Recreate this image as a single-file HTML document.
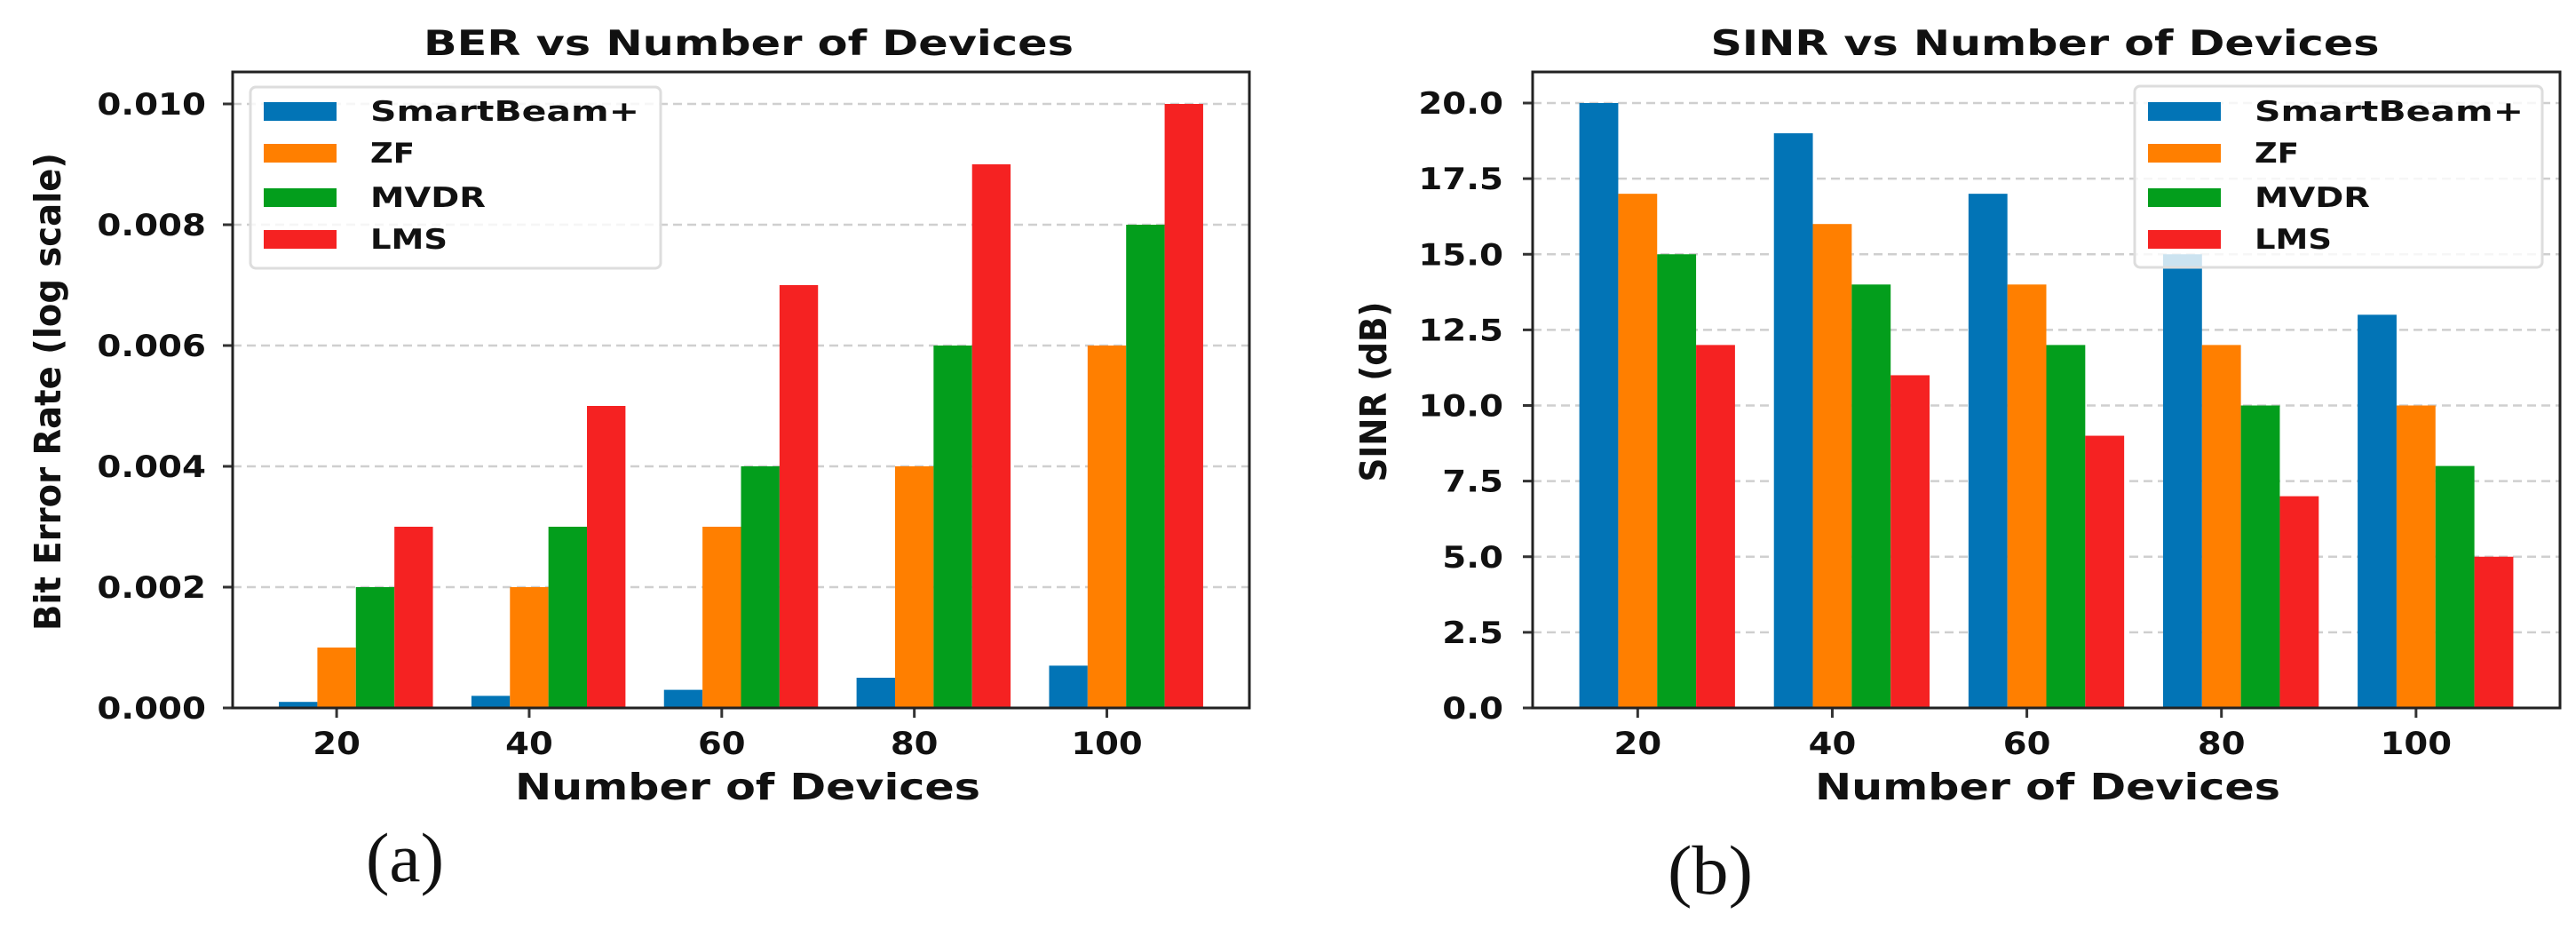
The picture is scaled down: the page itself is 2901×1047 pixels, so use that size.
<!DOCTYPE html>
<html><head><meta charset="utf-8"><style>
html,body{margin:0;padding:0;background:#fff;}
svg{display:block;}
text{font-family:"DejaVu Sans","Liberation Sans",sans-serif;font-weight:bold;fill:#111;}
</style></head><body>
<svg id="fig" width="2901" height="1047" viewBox="0 0 2901 1047" xmlns="http://www.w3.org/2000/svg"></svg>
<script>
const categories = ["20","40","60","80","100"];
const seriesNames = ["SmartBeam+","ZF","MVDR","LMS"];
const colors = ["#0274b6","#ff7f00","#039e1c","#f52222"];
const berSmart = [0.0001,0.0002,0.0003,0.0005,0.0007];
const berZF = [0.001,0.002,0.003,0.004,0.006];
const berMVDR = [0.002,0.003,0.004,0.006,0.008];
const berLMS = [0.003,0.005,0.007,0.009,0.010];
const berTicks = ["0.000","0.002","0.004","0.006","0.008","0.010"];
const sinrSmart = [20,19,17,15,13];
const sinrZF = [17,16,14,12,10];
const sinrMVDR = [15,14,12,10,8];
const sinrLMS = [12,11,9,7,5];
const sinrTicks = ["0.0","2.5","5.0","7.5","10.0","12.5","15.0","17.5","20.0"];

const NS="http://www.w3.org/2000/svg";
const svg=document.getElementById('fig');
function mk(tag,attrs,parent){const e=document.createElementNS(NS,tag);for(const k in attrs)e.setAttribute(k,attrs[k]);(parent||svg).appendChild(e);return e;}
function numLen(s,fs,k){let w=0;for(const ch of s)w+=(ch==='.'?0.38:0.696);return w*fs*k;}
const legendLens=[303,50,130,87];

function chart(o){
  const g=mk('g',{});
  
  
  const xmin=-0.34,xmax=4.94;
  const sx=v=>o.L+(v-xmin)/(xmax-xmin)*(o.R-o.L);
  const sy=v=>o.y0+(v-o.vmin)/(o.vmax-o.vmin)*(o.y1-o.y0);
  o.ticks.forEach((t,i)=>{
    const v=parseFloat(t);const y=sy(v);
    if(i>0){const gl=mk('line',{x1:o.L,x2:o.R,y1:y,y2:y,stroke:'#cfcfcf','stroke-width':2.5,'stroke-dasharray':'10,6'},g);
      }
    const tk=mk('line',{x1:o.L-11,x2:o.L,y1:y,y2:y,stroke:'#333','stroke-width':3},g);
    
    const tl=mk('text',{x:o.tickR,y:y+12,'text-anchor':'end','font-size':34,textLength:numLen(t,34,1.14),lengthAdjust:'spacingAndGlyphs'},g);
    tl.textContent=t;
    
  });
  const w=0.2;
  o.series.forEach((arr,s)=>{
    arr.forEach((v,i)=>{
      const c=i+s*w;
      const x1=sx(c-w/2),x2=sx(c+w/2);
      const yt=sy(v),yb=sy(o.vmin);
      const r=mk('rect',{x:x1,y:yt,width:x2-x1,height:yb-yt,fill:colors[s]},g);
      
      
    });
  });
  categories.forEach((c,i)=>{
    const x=sx(i+0.2);
    const tk=mk('line',{x1:x,x2:x,y1:o.y0,y2:o.y0+11,stroke:'#333','stroke-width':3},g);
    
    const tl=mk('text',{x:x,y:o.y0+52,'text-anchor':'middle','font-size':35,textLength:numLen(c,35,1.1),lengthAdjust:'spacingAndGlyphs'},g);
    tl.textContent=c;
    
  });
  const fr=mk('rect',{x:o.L,y:o.y1top,width:o.R-o.L,height:o.y0-o.y1top,fill:'none',stroke:'#222','stroke-width':3},g);
  
  const lg=mk('g',{},g);
  
  const lb=mk('rect',{x:o.lx,y:o.ly,width:o.lw,height:204,rx:6,fill:'#fff','fill-opacity':0.8,stroke:'#ddd','stroke-width':3},lg);
  
  const ys=[125,172,222,269];
  seriesNames.forEach((n,s)=>{
    const p=mk('rect',{x:o.lx+15,y:ys[s]-10,width:82,height:21,fill:colors[s]},lg);
    
    const t=mk('text',{x:o.lx+135,y:ys[s]+11,'font-size':31,textLength:legendLens[s],lengthAdjust:'spacingAndGlyphs'},lg);
    t.textContent=n;
    
  });
  const ti=mk('text',{x:o.tcx,y:62,'text-anchor':'middle','font-size':39,textLength:o.tlen,lengthAdjust:'spacingAndGlyphs'},g);
  ti.textContent=o.title;
  const xl=mk('text',{x:o.xlcx,y:900,'text-anchor':'middle','font-size':41,textLength:524,lengthAdjust:'spacingAndGlyphs'},g);
  xl.textContent='Number of Devices';
  const yl=mk('text',{x:0,y:0,'text-anchor':'middle','font-size':41,textLength:o.yllen,lengthAdjust:'spacingAndGlyphs',transform:`translate(${o.ylx},441) rotate(-90)`},g);
  yl.textContent=o.ylabel;
  const pl=mk('text',{x:o.pcx,y:o.py,'text-anchor':'middle','font-size':78,textLength:o.plen,lengthAdjust:'spacingAndGlyphs',style:'font-family:"Liberation Serif",serif;font-weight:normal'},g);
  pl.textContent=o.panel;
}

chart({name:'ber-chart',L:262,R:1407,y0:797,y1:117,y1top:81,vmin:0,vmax:0.010,ticks:berTicks,tickR:232,
  series:[berSmart,berZF,berMVDR,berLMS],lx:282,ly:98,lw:462,title:'BER vs Number of Devices',tcx:843,tlen:732,
  xlcx:842,ylabel:'Bit Error Rate (log scale)',ylx:68,yllen:538,panel:'(a)',pcx:456,py:992,plen:88});
chart({name:'sinr-chart',L:1726,R:2883,y0:797,y1:116,y1top:81,vmin:0,vmax:20,ticks:sinrTicks,tickR:1693,
  series:[sinrSmart,sinrZF,sinrMVDR,sinrLMS],lx:2404,ly:97,lw:459,title:'SINR vs Number of Devices',tcx:2303,tlen:753,
  xlcx:2306,ylabel:'SINR (dB)',ylx:1561,yllen:203,panel:'(b)',pcx:1926,py:1006,plen:96});
</script>
</body></html>
